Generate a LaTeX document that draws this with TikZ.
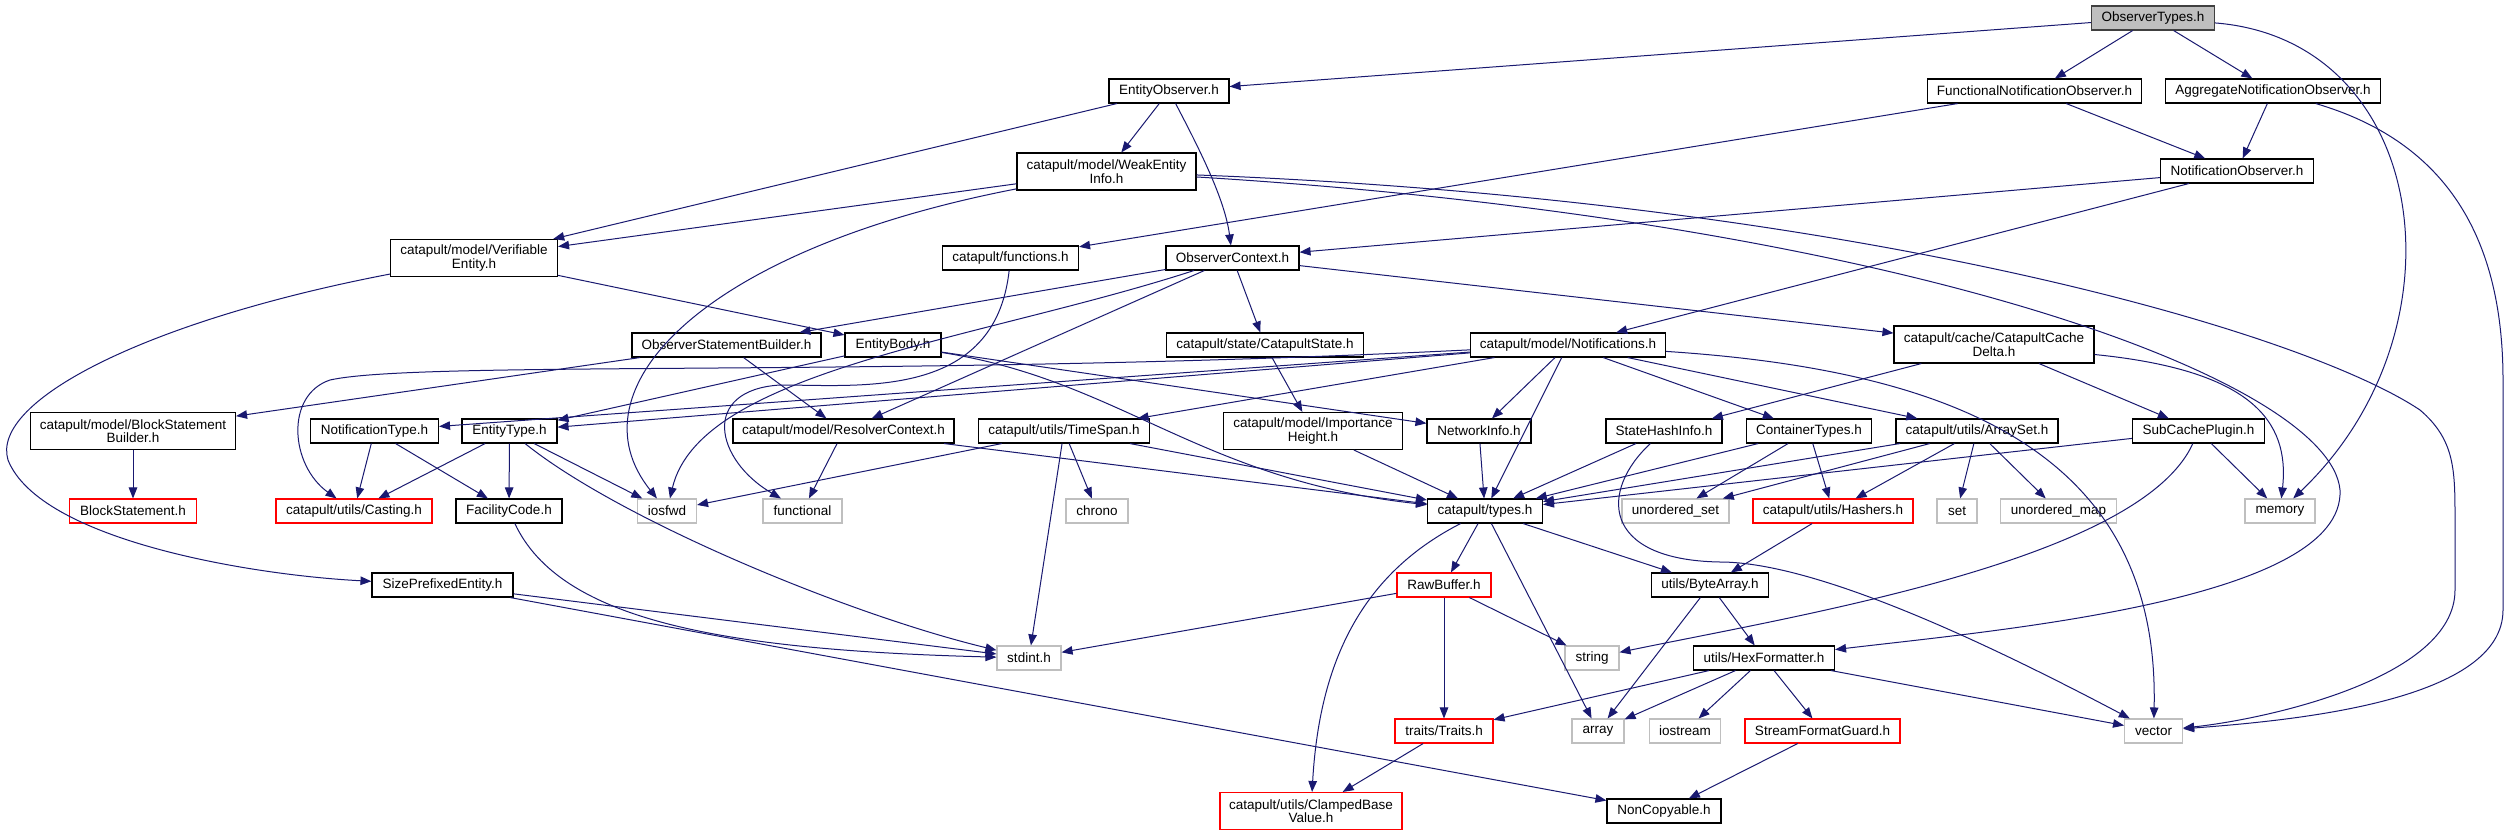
\documentclass[tikz,border=0pt]{standalone}
\usepackage{fontspec}
\setmainfont{Liberation Sans}
\usetikzlibrary{arrows.meta}
\definecolor{edgeblue}{HTML}{191970}
\definecolor{sysgray}{HTML}{BFBFBF}
\definecolor{rootgray}{HTML}{BFBFBF}
\begin{document}
\begin{tikzpicture}[x=1pt,y=1pt,
  font=\fontsize{13.5}{13.5}\selectfont,
  box/.style={draw=black, line width=1.1pt, rectangle, inner sep=0pt, minimum height=24pt, align=center, fill=white},
  sys/.style={box, draw=sysgray},
  trunc/.style={box, draw=red},
  root/.style={box, fill=rootgray, draw=black!75},
  two/.style={minimum height=37pt},
  dep/.style={draw=edgeblue, line width=1pt, -{Triangle[length=11pt,width=8.5pt]}}]
\useasboundingbox (0,0) rectangle (2509,-836);
\fill[white] (0,0) rectangle (2509,-836);

% rank 0-1
\node[root, minimum width=123pt] (ot) at (2153,-18) {ObserverTypes.h};
\node[box, minimum width=120pt] (eo) at (1169,-91) {EntityObserver.h};
\node[box, minimum width=214pt] (fno) at (2034.5,-91) {FunctionalNotificationObserver.h};
\node[box, minimum width=215pt] (ano) at (2273,-91) {AggregateNotificationObserver.h};
% rank 2
\node[box, two, minimum width=179pt] (wei) at (1106.5,-171.5) {catapult/model/WeakEntity\\Info.h};
\node[box, minimum width=153pt] (no) at (2237,-171) {NotificationObserver.h};
% rank 3
\node[box, two, minimum width=167pt] (ve) at (474,-258) {catapult/model/Verifiable\\Entity.h};
\node[box, minimum width=136pt] (fn) at (1010.5,-258) {catapult/functions.h};
\node[box, minimum width=133pt] (oc) at (1232.5,-258) {ObserverContext.h};
% rank 4
\node[box, minimum width=189pt] (osb) at (726.5,-345) {ObserverStatementBuilder.h};
\node[box, minimum width=96pt] (eb) at (893,-345) {EntityBody.h};
\node[box, minimum width=197pt] (cs) at (1265,-345) {catapult/state/CatapultState.h};
\node[box, minimum width=195pt] (nt) at (1568,-345) {catapult/model/Notifications.h};
\node[box, two, minimum width=200pt] (ccd) at (1994,-344.5) {catapult/cache/CatapultCache\\Delta.h};
% rank 5
\node[box, two, minimum width=205pt] (bsb) at (133,-431) {catapult/model/BlockStatement\\Builder.h};
\node[box, minimum width=128pt] (ntype) at (374.5,-431) {NotificationType.h};
\node[box, minimum width=95pt] (et) at (509.5,-431) {EntityType.h};
\node[box, minimum width=221pt] (rc) at (843.5,-431) {catapult/model/ResolverContext.h};
\node[box, minimum width=171pt] (ts) at (1064,-431) {catapult/utils/TimeSpan.h};
\node[box, two, minimum width=179pt] (ih) at (1313,-431) {catapult/model/Importance\\Height.h};
\node[box, minimum width=104pt] (ni) at (1479,-431) {NetworkInfo.h};
\node[box, minimum width=116pt] (shi) at (1664,-431) {StateHashInfo.h};
\node[box, minimum width=125pt] (ct) at (1809,-431) {ContainerTypes.h};
\node[box, minimum width=162pt] (as) at (1977,-431) {catapult/utils/ArraySet.h};
\node[box, minimum width=132pt] (scp) at (2198.5,-431) {SubCachePlugin.h};
% rank 6
\node[trunc, minimum width=127pt] (bs) at (133,-511) {BlockStatement.h};
\node[trunc, minimum width=156pt] (cast) at (354,-511) {catapult/utils/Casting.h};
\node[box, minimum width=106pt] (fc) at (509,-511) {FacilityCode.h};
\node[sys, minimum width=59pt] (iosfwd) at (667,-511) {iosfwd};
\node[sys, minimum width=79pt] (functional) at (802.5,-511) {functional};
\node[sys, minimum width=62pt] (chrono) at (1097,-511) {chrono};
\node[box, minimum width=115pt] (types) at (1485,-511) {catapult/types.h};
\node[sys, minimum width=107pt] (uset) at (1675.5,-511) {unordered\_set};
\node[trunc, minimum width=160pt] (hash) at (1833,-511) {catapult/utils/Hashers.h};
\node[sys, minimum width=40pt] (set) at (1957,-511) {set};
\node[sys, minimum width=116pt] (umap) at (2058.5,-511) {unordered\_map};
\node[sys, minimum width=70pt] (mem) at (2280,-511) {memory};
% rank 7
\node[box, minimum width=141pt] (spe) at (442.5,-585) {SizePrefixedEntity.h};
\node[trunc, minimum width=94pt] (rb) at (1444,-585) {RawBuffer.h};
\node[box, minimum width=117pt] (ba) at (1710,-585) {utils/ByteArray.h};
% rank 8
\node[sys, minimum width=64pt] (stdint) at (1029,-658) {stdint.h};
\node[sys, minimum width=54pt] (str) at (1592,-658) {string};
\node[box, minimum width=141pt] (hf) at (1764,-658) {utils/HexFormatter.h};
% rank 9
\node[trunc, minimum width=98pt] (tr) at (1444,-731) {traits/Traits.h};
\node[sys, minimum width=52pt] (arr) at (1598,-731) {array};
\node[sys, minimum width=71pt] (ios) at (1685,-731) {iostream};
\node[trunc, minimum width=155pt] (sfg) at (1822.5,-731) {StreamFormatGuard.h};
\node[sys, minimum width=58pt] (vec) at (2153.6,-731) {vector};
% rank 10
\node[trunc, two, minimum width=182pt] (cbv) at (1311,-811) {catapult/utils/ClampedBase\\Value.h};
\node[box, minimum width=114pt] (nc) at (1664,-811) {NonCopyable.h};

% edges
\draw[dep] (ot) -- (eo);
\draw[dep] (ot) -- (fno);
\draw[dep] (ot) -- (ano);
\draw[dep] (ot) .. controls (2430,-40) and (2470,-330) .. (mem);
\draw[dep] (eo) -- (ve);
\draw[dep] (eo) -- (wei);
\draw[dep] (eo) .. controls (1200,-150) and (1225,-200) .. (oc);
\draw[dep] (fno) -- (fn);
\draw[dep] (fno) -- (no);
\draw[dep] (ano) -- (no);
\draw[dep] (ano) .. controls (2440,-140) and (2503,-230) .. (2503,-380) -- (2503,-610) .. controls (2503,-700) and (2300,-720) .. (vec);
\draw[dep] (no) -- (oc);
\draw[dep] (no) -- (nt);
\draw[dep] (wei) -- (ve);
\draw[dep] (wei) .. controls (700,-250) and (570,-390) .. (iosfwd);
\draw[dep] (wei) .. controls (1900,-220) and (2330,-380) .. (2340,-490) .. controls (2345,-600) and (2000,-630) .. (hf);
\draw[dep] (wei) .. controls (1850,-200) and (2300,-330) .. (2420,-410) .. controls (2455,-440) and (2455,-470) .. (2455,-520) -- (2455,-590) .. controls (2455,-680) and (2260,-720) .. (vec);
\draw[dep] (ve) -- (eb);
\draw[dep] (ve) .. controls (150,-320) and (-10,-400) .. (8,-460) .. controls (40,-540) and (250,-575) .. (spe);
\draw[dep] (fn) .. controls (995,-400) and (860,-385) .. (780,-385) .. controls (700,-390) and (715,-460) .. (functional);
\draw[dep] (oc) -- (osb);
\draw[dep] (oc) -- (rc);
\draw[dep] (oc) -- (cs);
\draw[dep] (oc) -- (ccd);
\draw[dep] (oc) .. controls (980,-340) and (700,-370) .. (iosfwd);
\draw[dep] (osb) -- (bsb);
\draw[dep] (osb) -- (rc);
\draw[dep] (eb) -- (et);
\draw[dep] (eb) -- (ni);
\draw[dep] (eb) .. controls (1120,-380) and (1200,-480) .. (types);
\draw[dep] (cs) -- (ih);
\draw[dep] (nt) .. controls (900,-378) and (420,-360) .. (330,-380) .. controls (285,-395) and (290,-465) .. (cast);
\draw[dep] (nt) -- (ntype);
\draw[dep] (nt) -- (et);
\draw[dep] (nt) -- (ts);
\draw[dep] (nt) -- (ni);
\draw[dep] (nt) -- (types);
\draw[dep] (nt) -- (ct);
\draw[dep] (nt) -- (as);
\draw[dep] (nt) .. controls (1950,-370) and (2160,-450) .. (vec);
\draw[dep] (ccd) -- (shi);
\draw[dep] (ccd) -- (scp);
\draw[dep] (ccd) .. controls (2250,-370) and (2290,-420) .. (mem);
\draw[dep] (bsb) -- (bs);
\draw[dep] (ntype) -- (cast);
\draw[dep] (ntype) -- (fc);
\draw[dep] (et) -- (cast);
\draw[dep] (et) -- (fc);
\draw[dep] (et) -- (iosfwd);
\draw[dep] (et) .. controls (620,-520) and (850,-615) .. (stdint);
\draw[dep] (rc) -- (functional);
\draw[dep] (rc) -- (types);
\draw[dep] (ts) -- (iosfwd);
\draw[dep] (ts) -- (chrono);
\draw[dep] (ts) -- (stdint);
\draw[dep] (ts) -- (types);
\draw[dep] (ih) -- (types);
\draw[dep] (ni) -- (types);
\draw[dep] (shi) -- (types);
\draw[dep] (shi) .. controls (1600,-490) and (1600,-560) .. (1720,-562) .. controls (1820,-562) and (2000,-650) .. (vec);
\draw[dep] (ct) -- (types);
\draw[dep] (ct) -- (uset);
\draw[dep] (ct) -- (hash);
\draw[dep] (as) -- (types);
\draw[dep] (as) -- (uset);
\draw[dep] (as) -- (hash);
\draw[dep] (as) -- (set);
\draw[dep] (as) -- (umap);
\draw[dep] (scp) -- (types);
\draw[dep] (scp) -- (mem);
\draw[dep] (scp) .. controls (2140,-560) and (1800,-615) .. (str);
\draw[dep] (fc) .. controls (560,-620) and (720,-650) .. (stdint);
\draw[dep] (spe) -- (stdint);
\draw[dep] (spe) -- (nc);
\draw[dep] (types) -- (rb);
\draw[dep] (types) -- (ba);
\draw[dep] (types) -- (arr);
\draw[dep] (types) .. controls (1370,-570) and (1320,-650) .. (cbv);
\draw[dep] (rb) -- (stdint);
\draw[dep] (rb) -- (str);
\draw[dep] (rb) -- (tr);
\draw[dep] (hash) -- (ba);
\draw[dep] (ba) -- (hf);
\draw[dep] (ba) -- (arr);
\draw[dep] (hf) -- (tr);
\draw[dep] (hf) -- (arr);
\draw[dep] (hf) -- (ios);
\draw[dep] (hf) -- (sfg);
\draw[dep] (hf) -- (vec);
\draw[dep] (tr) -- (cbv);
\draw[dep] (sfg) -- (nc);
\end{tikzpicture}
\end{document}
